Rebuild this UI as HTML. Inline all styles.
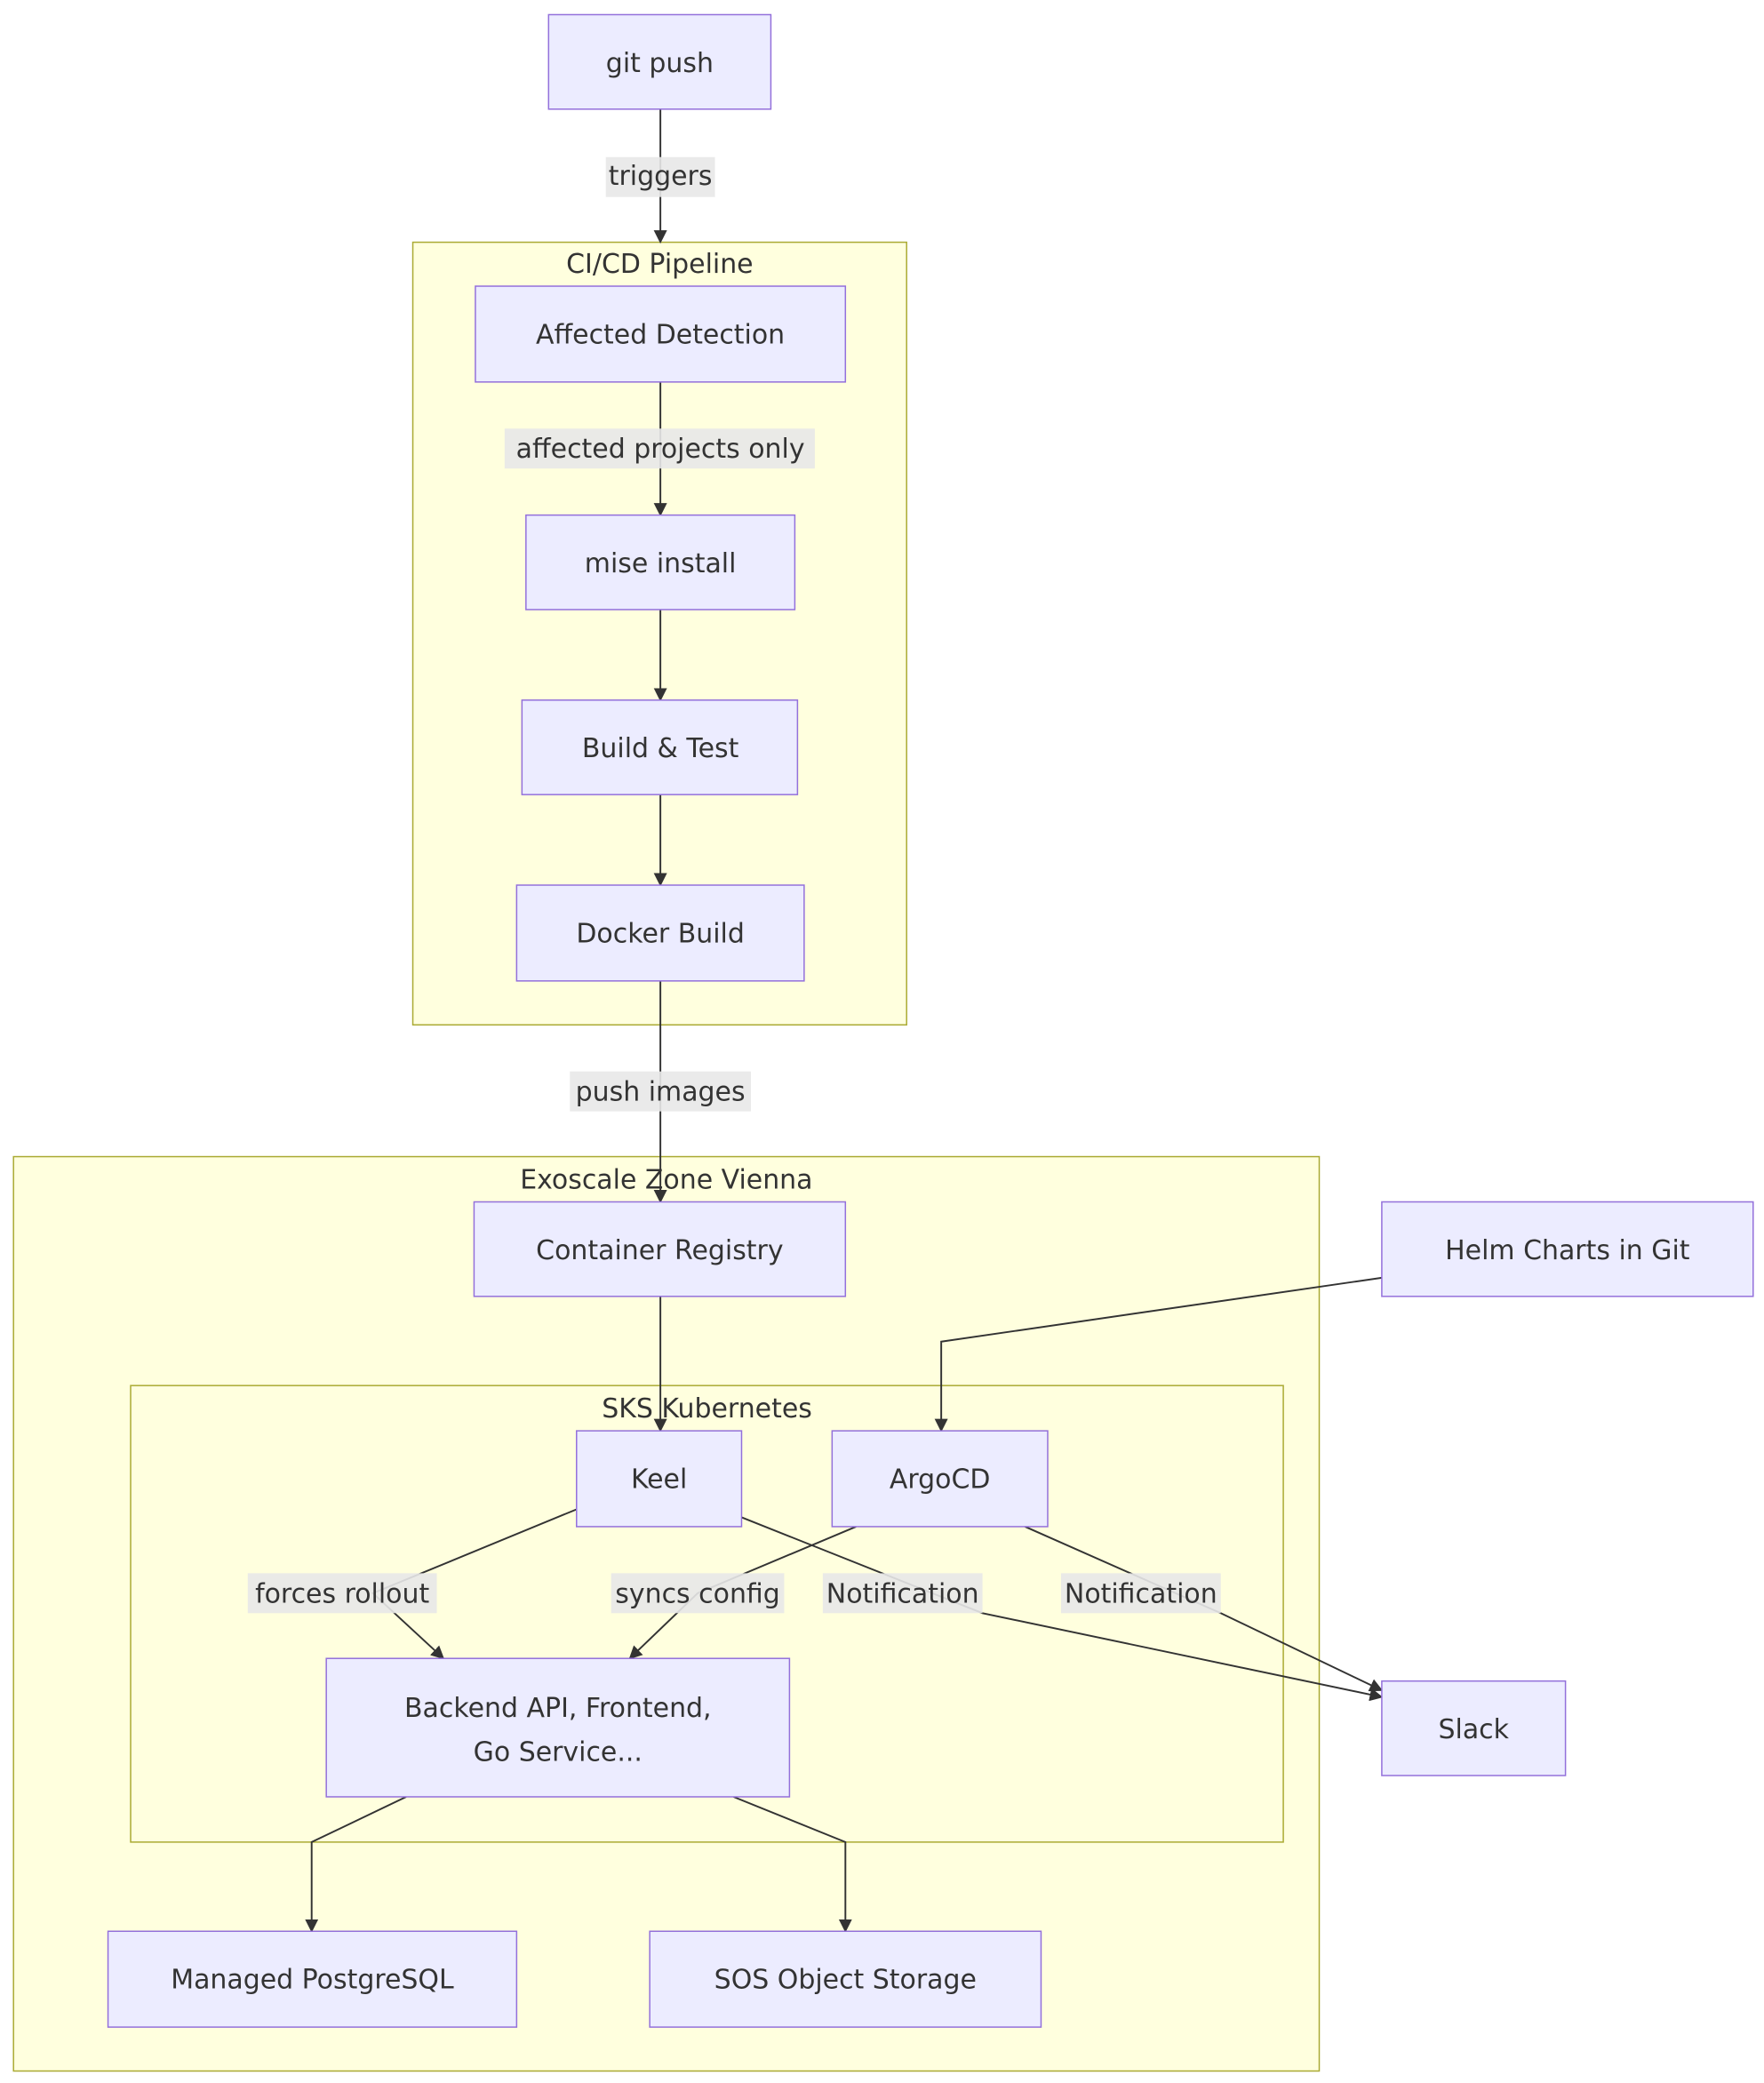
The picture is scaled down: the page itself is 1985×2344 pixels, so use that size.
<!DOCTYPE html>
<html><head><meta charset="utf-8"><style>html,body{margin:0;padding:0;background:#fff}svg{display:block}</style></head>
<body>
<svg width="1985" height="2344" viewBox="0 0 1325 1565" xmlns="http://www.w3.org/2000/svg" font-family="'DejaVu Sans', 'Liberation Sans', sans-serif" font-size="20" fill="#333">
<defs><marker id="a" viewBox="0 0 10 10" refX="9" refY="5" markerWidth="10" markerHeight="10" markerUnits="userSpaceOnUse" orient="auto"><path d="M0,0L10,5L0,10z" fill="#333"/></marker>
<style>.c{fill:#FFFFDE;stroke:#AAAA33;stroke-width:1}.n{fill:#ECECFF;stroke:#9370DB;stroke-width:1}.e{fill:none;stroke:#333;stroke-width:1.3}.l{fill:#e8e8e8;opacity:0.9}text{fill:#333}</style></defs>
<rect class="c" x="310" y="182" width="371" height="588"/>
<rect class="c" x="10" y="869" width="981" height="687"/>
<rect class="c" x="98" y="1041" width="866" height="343"/>
<g text-anchor="middle">
<text x="495.5" y="205">CI/CD Pipeline</text>
<text x="500.5" y="893">Exoscale Zone Vienna</text>
<text x="531" y="1065">SKS Kubernetes</text>
</g>
<g class="e" marker-end="url(#a)">
<path d="M496,82V182"/>
<path d="M496,287V387"/>
<path d="M496,458V526"/>
<path d="M496,597V665"/>
<path d="M496,737V903"/>
<path d="M496,974V1075"/>
<path d="M1038,960L707,1008V1075"/>
<path d="M433,1134L280,1197L333,1246"/>
<path d="M643,1147L524,1197L473,1246"/>
<path d="M557,1140L738,1212L1038,1275"/>
<path d="M770,1147L917,1212L1038,1270"/>
<path d="M305,1350L234,1384V1451"/>
<path d="M551,1350L635,1384V1451"/>
</g>
<g>
<rect class="l" x="455" y="118" width="82" height="30"/>
<rect class="l" x="379" y="322" width="233" height="30"/>
<rect class="l" x="428" y="805" width="136" height="30"/>
<rect class="l" x="186" y="1182" width="142" height="30"/>
<rect class="l" x="459" y="1182" width="130" height="30"/>
<rect class="l" x="618" y="1182" width="120" height="30"/>
<rect class="l" x="797" y="1182" width="120" height="30"/>
</g>
<g class="n">
<rect x="412" y="11" width="167" height="71"/>
<rect x="357" y="215" width="278" height="72"/>
<rect x="395" y="387" width="202" height="71"/>
<rect x="392" y="526" width="207" height="71"/>
<rect x="388" y="665" width="216" height="72"/>
<rect x="356" y="903" width="279" height="71"/>
<rect x="1038" y="903" width="279" height="71"/>
<rect x="433" y="1075" width="124" height="72"/>
<rect x="625" y="1075" width="162" height="72"/>
<rect x="245" y="1246" width="348" height="104"/>
<rect x="1038" y="1263" width="138" height="71"/>
<rect x="81" y="1451" width="307" height="72"/>
<rect x="488" y="1451" width="294" height="72"/>
</g>
<g text-anchor="middle">
<text x="496" y="139">triggers</text>
<text x="496" y="344">affected projects only</text>
<text x="496" y="827">push images</text>
<text x="257" y="1204">forces rollout</text>
<text x="524" y="1204">syncs config</text>
<text x="678" y="1204">Notification</text>
<text x="857" y="1204">Notification</text>
<text x="495.5" y="54">git push</text>
<text x="496" y="258">Affected Detection</text>
<text x="496" y="430">mise install</text>
<text x="496" y="569">Build &amp; Test</text>
<text x="496" y="708">Docker Build</text>
<text x="495.5" y="946">Container Registry</text>
<text x="1177.5" y="946">Helm Charts in Git</text>
<text x="495" y="1118">Keel</text>
<text x="706" y="1118">ArgoCD</text>
<text x="419" y="1290">Backend API, Frontend,</text>
<text x="419" y="1323">Go Service...</text>
<text x="1107" y="1306">Slack</text>
<text x="234.5" y="1494">Managed PostgreSQL</text>
<text x="635" y="1494">SOS Object Storage</text>
</g>
</svg>
</body></html>
